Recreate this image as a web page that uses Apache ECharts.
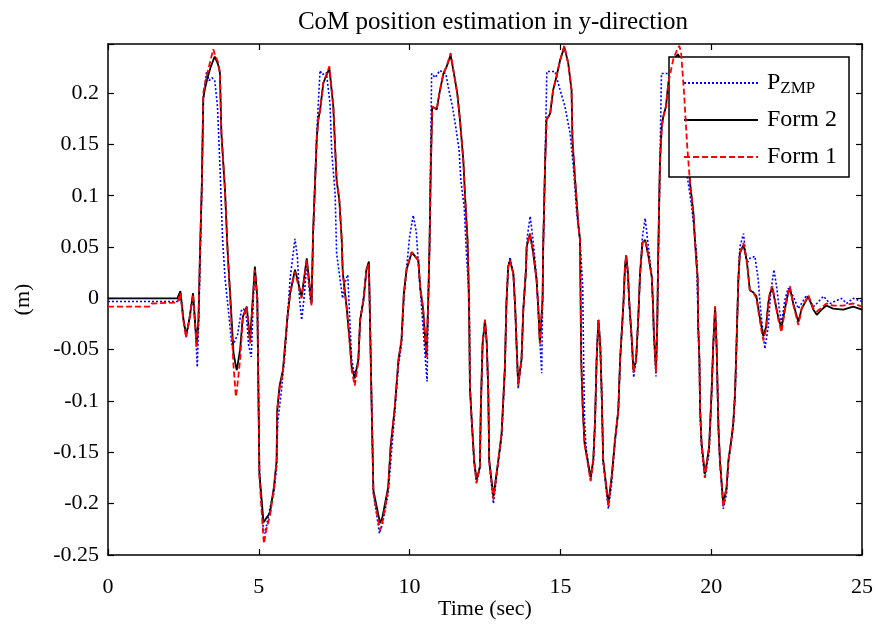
<!DOCTYPE html>
<html>
<head>
<meta charset="utf-8">
<script src="https://cdn.jsdelivr.net/npm/echarts@6/dist/echarts.min.js"></script>
<style>
  html, body { margin: 0; padding: 0; background: #fff; }
  #chart { width: 878px; height: 626px; }
</style>
</head>
<body>
<div id="chart"></div>
<script>
// time (sec) shared by Form 2 / Form 1
const formTime = [0, 1.40, 1.45, 2.30, 2.36, 2.40, 2.50, 2.59, 2.70, 2.82, 2.94, 3.00, 3.05, 3.11, 3.16, 3.22, 3.30, 3.40, 3.49, 3.54,
  3.65, 3.71, 3.76, 3.88, 3.96, 4.02, 4.05, 4.10, 4.16, 4.24, 4.27, 4.38, 4.47, 4.60, 4.71, 4.87, 4.95, 5.02, 5.15, 5.17,
  5.25, 5.37, 5.50, 5.59, 5.61, 5.69, 5.80, 5.86, 5.95, 6.04, 6.20, 6.42, 6.59, 6.75, 6.80, 6.92, 6.97, 7.03, 7.14, 7.34,
  7.47, 7.58, 7.67, 7.75, 7.78, 7.80, 7.92, 8.02, 8.08, 8.18, 8.30, 8.36, 8.47, 8.57, 8.65, 8.74, 8.80, 9.02, 9.10, 9.29,
  9.37, 9.51, 9.63, 9.73, 9.81, 9.90, 10.07, 10.29, 10.35, 10.45, 10.56, 10.62, 10.66, 10.70, 10.75, 10.90, 10.99, 11.12, 11.23, 11.36,
  11.47, 11.58, 11.67, 11.78, 11.84, 11.92, 11.95, 11.98, 12.00, 12.06, 12.14, 12.22, 12.33, 12.36, 12.42, 12.50, 12.56, 12.61, 12.64, 12.78,
  12.94, 13.05, 13.16, 13.21, 13.27, 13.33, 13.44, 13.50, 13.55, 13.60, 13.71, 13.77, 13.86, 13.88, 13.99, 14.10, 14.21, 14.27, 14.32, 14.41,
  14.43, 14.49, 14.54, 14.66, 14.76, 14.87, 14.99, 15.13, 15.26, 15.37, 15.40, 15.48, 15.59, 15.65, 15.66, 15.67, 15.69, 15.74, 15.80, 16.00,
  16.09, 16.15, 16.20, 16.26, 16.32, 16.37, 16.42, 16.59, 16.70, 16.81, 16.92, 16.98, 17.09, 17.14, 17.18, 17.24, 17.28, 17.37, 17.42, 17.51,
  17.58, 17.64, 17.72, 17.81, 17.92, 18.03, 18.07, 18.10, 18.17, 18.21, 18.24, 18.28, 18.30, 18.36, 18.41, 18.50, 18.58, 18.75, 18.90, 18.94,
  19.00, 19.10, 19.20, 19.30, 19.41, 19.46, 19.52, 19.55, 19.57, 19.61, 19.63, 19.68, 19.79, 19.85, 19.93, 20.01, 20.07, 20.13, 20.18, 20.24,
  20.29, 20.40, 20.51, 20.57, 20.68, 20.73, 20.79, 20.84, 20.90, 20.95, 21.07, 21.18, 21.28, 21.39, 21.50, 21.59, 21.67, 21.73, 21.82, 21.89,
  21.95, 22.03, 22.11, 22.22, 22.33, 22.44, 22.55, 22.61, 22.72, 22.89, 23.00, 23.22, 23.39, 23.50, 23.66, 23.82, 24.04, 24.38, 24.71, 25.00];

const form2 = [0, 0, 0, 0, 0, 0.007, -0.02, -0.036, -0.02, 0.005, -0.045, -0.02, 0.044, 0.109, 0.195, 0.205, 0.215, 0.225, 0.232, 0.2355,
  0.228, 0.22, 0.161, 0.105, 0.05, 0.018, 0.005, -0.021, -0.053, -0.066, -0.07, -0.05, -0.018, -0.008, -0.041, 0.031, 0.0, -0.17, -0.216, -0.218,
  -0.214, -0.209, -0.184, -0.158, -0.109, -0.085, -0.07, -0.05, -0.018, 0.005, 0.028, 0.002, 0.039, -0.005, 0.064, 0.154, 0.174, 0.183, 0.21, 0.224,
  0.187, 0.115, 0.096, 0.057, 0.028, 0.021, -0.011, -0.044, -0.067, -0.078, -0.06, -0.021, -0.002, 0.028, 0.036, -0.102, -0.187, -0.219, -0.213, -0.184,
  -0.145, -0.106, -0.06, -0.041, 0.005, 0.028, 0.045, 0.037, 0.011, -0.011, -0.057, 0.0, 0.05, 0.122, 0.187, 0.184, 0.2, 0.219, 0.226, 0.237,
  0.219, 0.2, 0.174, 0.135, 0.099, 0.057, 0.025, -0.028, -0.086, -0.119, -0.158, -0.177, -0.164, -0.109, -0.044, -0.021, -0.044, -0.093, -0.158, -0.193,
  -0.158, -0.132, -0.067, -0.005, 0.031, 0.037, 0.024, -0.008, -0.047, -0.083, -0.06, -0.011, 0.028, 0.05, 0.063, 0.044, 0.018, -0.011, -0.044, 0.0,
  0.05, 0.128, 0.174, 0.18, 0.203, 0.216, 0.232, 0.245, 0.229, 0.203, 0.154, 0.119, 0.073, 0.057, 0.024, 0.0, -0.06, -0.106, -0.141, -0.174,
  -0.158, -0.119, -0.06, -0.021, -0.044, -0.093, -0.158, -0.2, -0.174, -0.138, -0.109, -0.06, -0.005, 0.03, 0.042, 0.025, -0.002, -0.041, -0.07, -0.06,
  -0.021, 0.024, 0.054, 0.057, 0.041, 0.021, -0.005, -0.034, -0.07, -0.028, 0.037, 0.1, 0.132, 0.167, 0.177, 0.187, 0.21, 0.232, 0.238, 0.237,
  0.232, 0.2, 0.15, 0.112, 0.083, 0.057, 0.031, 0.021, -0.028, -0.06, -0.106, -0.141, -0.171, -0.161, -0.145, -0.093, -0.044, -0.008, -0.047, -0.125,
  -0.158, -0.2, -0.184, -0.158, -0.135, -0.122, -0.093, -0.044, 0.018, 0.044, 0.052, 0.037, 0.008, 0.006, 0.002, -0.015, -0.028, -0.037, -0.028, -0.005,
  0.005, 0.01, -0.002, -0.018, -0.029, -0.011, 0.005, 0.01, -0.005, -0.023, -0.01, 0.002, -0.011, -0.016, -0.011, -0.007, -0.01, -0.011, -0.008, -0.011];

const form1 = [-0.008, -0.008, -0.005, -0.004, -0.003, 0.005, -0.022, -0.038, -0.02, 0.004, -0.048, -0.02, 0.044, 0.109, 0.2, 0.21, 0.22, 0.232, 0.2427, 0.238,
  0.23, 0.22, 0.161, 0.105, 0.05, 0.018, 0.0, -0.03, -0.065, -0.096, -0.09, -0.06, -0.02, -0.008, -0.044, 0.028, 0.0, -0.175, -0.232, -0.239,
  -0.225, -0.212, -0.186, -0.16, -0.109, -0.088, -0.072, -0.05, -0.018, 0.005, 0.026, 0.0, 0.037, -0.007, 0.064, 0.154, 0.174, 0.183, 0.21, 0.226,
  0.187, 0.115, 0.096, 0.057, 0.028, 0.021, -0.011, -0.046, -0.07, -0.085, -0.062, -0.021, -0.002, 0.028, 0.033, -0.102, -0.19, -0.226, -0.218, -0.186,
  -0.145, -0.106, -0.06, -0.041, 0.005, 0.028, 0.045, 0.037, 0.011, -0.011, -0.057, 0.0, 0.05, 0.122, 0.187, 0.184, 0.2, 0.219, 0.226, 0.239,
  0.219, 0.2, 0.174, 0.135, 0.099, 0.057, 0.025, -0.028, -0.086, -0.119, -0.158, -0.18, -0.164, -0.109, -0.044, -0.021, -0.044, -0.093, -0.158, -0.196,
  -0.158, -0.132, -0.067, -0.005, 0.031, 0.037, 0.024, -0.008, -0.047, -0.085, -0.06, -0.011, 0.028, 0.05, 0.063, 0.044, 0.018, -0.011, -0.044, 0.0,
  0.05, 0.128, 0.174, 0.18, 0.203, 0.216, 0.232, 0.246, 0.229, 0.203, 0.154, 0.119, 0.073, 0.057, 0.024, 0.0, -0.06, -0.106, -0.141, -0.178,
  -0.158, -0.119, -0.06, -0.021, -0.044, -0.093, -0.158, -0.203, -0.174, -0.138, -0.109, -0.06, -0.005, 0.03, 0.042, 0.025, -0.002, -0.041, -0.072, -0.06,
  -0.021, 0.024, 0.054, 0.057, 0.041, 0.021, -0.005, -0.034, -0.072, -0.028, 0.037, 0.1, 0.132, 0.167, 0.177, 0.187, 0.21, 0.234, 0.244, 0.246,
  0.24, 0.2, 0.15, 0.112, 0.083, 0.057, 0.031, 0.021, -0.028, -0.06, -0.106, -0.141, -0.175, -0.161, -0.145, -0.093, -0.044, -0.008, -0.047, -0.125,
  -0.158, -0.203, -0.184, -0.158, -0.135, -0.122, -0.093, -0.044, 0.018, 0.044, 0.054, 0.037, 0.008, 0.006, 0.0, -0.017, -0.032, -0.041, -0.03, -0.005,
  0.006, 0.012, -0.002, -0.02, -0.033, -0.012, 0.005, 0.012, -0.006, -0.026, -0.01, 0.003, -0.01, -0.013, -0.009, -0.005, -0.007, -0.007, -0.005, -0.008];

// P_ZMP has its own sample times
const zmpTime = [0, 2.36, 2.40, 2.50, 2.59, 2.70, 2.82, 2.90, 2.96, 3.00, 3.05, 3.11, 3.16, 3.27, 3.35, 3.45, 3.54, 3.63, 3.72, 3.80,
  3.88, 3.95, 4.02, 4.10, 4.20, 4.30, 4.42, 4.50, 4.60, 4.66, 4.75, 4.82, 4.87, 4.95, 5.02, 5.15, 5.20, 5.30, 5.40, 5.50,
  5.59, 5.63, 5.75, 5.86, 5.95, 6.04, 6.20, 6.28, 6.35, 6.42, 6.50, 6.59, 6.70, 6.75, 6.80, 6.92, 7.03, 7.10, 7.24, 7.36,
  7.42, 7.53, 7.58, 7.71, 7.78, 7.85, 7.95, 8.00, 8.08, 8.18, 8.30, 8.36, 8.47, 8.57, 8.65, 8.74, 8.80, 9.00, 9.10, 9.29,
  9.40, 9.51, 9.63, 9.73, 9.81, 9.90, 10.00, 10.12, 10.22, 10.30, 10.40, 10.50, 10.58, 10.62, 10.66, 10.73, 10.85, 11.00, 11.20, 11.30,
  11.42, 11.53, 11.64, 11.70, 11.81, 11.89, 11.98, 12.00, 12.06, 12.14, 12.22, 12.33, 12.36, 12.42, 12.50, 12.56, 12.61, 12.64, 12.78, 12.94,
  13.05, 13.16, 13.21, 13.27, 13.33, 13.44, 13.50, 13.55, 13.60, 13.71, 13.77, 13.86, 13.90, 14.00, 14.08, 14.15, 14.21, 14.27, 14.38, 14.41,
  14.43, 14.49, 14.55, 14.82, 14.99, 15.15, 15.32, 15.43, 15.54, 15.65, 15.74, 15.77, 15.80, 15.85, 16.00, 16.09, 16.15, 16.20, 16.26, 16.32,
  16.37, 16.42, 16.59, 16.70, 16.81, 16.92, 16.98, 17.09, 17.14, 17.18, 17.24, 17.28, 17.37, 17.43, 17.51, 17.58, 17.64, 17.72, 17.81, 17.92,
  18.03, 18.07, 18.10, 18.17, 18.21, 18.24, 18.30, 18.35, 18.60, 18.75, 18.90, 19.05, 19.20, 19.35, 19.46, 19.52, 19.57, 19.61, 19.63, 19.68,
  19.79, 19.85, 19.93, 20.01, 20.07, 20.13, 20.18, 20.24, 20.29, 20.40, 20.51, 20.57, 20.68, 20.73, 20.79, 20.84, 20.90, 20.95, 21.07, 21.18,
  21.28, 21.45, 21.56, 21.62, 21.73, 21.78, 21.89, 21.97, 22.08, 22.17, 22.26, 22.33, 22.44, 22.55, 22.72, 22.89, 23.16, 23.39, 23.50, 23.72,
  23.94, 24.32, 24.49, 24.71, 25.00];

const zmp = [-0.003, -0.003, 0.005, -0.02, -0.038, -0.02, 0.003, -0.03, -0.067, -0.03, 0.03, 0.109, 0.195, 0.221, 0.212, 0.215, 0.212, 0.187, 0.122, 0.057,
  0.02, 0.0, -0.02, -0.045, -0.042, -0.035, -0.012, -0.01, -0.02, -0.045, -0.057, 0.0, 0.028, 0.0, -0.17, -0.225, -0.229, -0.215, -0.2, -0.19,
  -0.165, -0.12, -0.09, -0.055, -0.02, 0.02, 0.058, 0.04, 0.0, -0.021, 0.0, 0.035, 0.0, -0.005, 0.06, 0.16, 0.222, 0.218, 0.22, 0.19,
  0.142, 0.102, 0.044, 0.015, 0.0, 0.015, 0.023, -0.01, -0.06, -0.075, -0.06, -0.021, 0.0, 0.028, 0.035, -0.1, -0.19, -0.229, -0.22, -0.19,
  -0.15, -0.11, -0.065, -0.045, 0.0, 0.03, 0.06, 0.081, 0.065, 0.03, -0.01, -0.05, -0.081, 0.0, 0.05, 0.219, 0.215, 0.222, 0.219, 0.203,
  0.187, 0.167, 0.145, 0.115, 0.089, 0.04, 0.0, -0.086, -0.12, -0.16, -0.18, -0.165, -0.11, -0.045, -0.022, -0.045, -0.095, -0.16, -0.2, -0.16,
  -0.135, -0.07, -0.005, 0.03, 0.04, 0.024, -0.01, -0.05, -0.088, -0.06, -0.011, 0.03, 0.06, 0.08, 0.06, 0.04, 0.02, -0.015, -0.073, 0.0,
  0.05, 0.13, 0.221, 0.221, 0.203, 0.187, 0.161, 0.128, 0.083, 0.057, 0.011, -0.06, -0.12, -0.145, -0.178, -0.16, -0.12, -0.06, -0.021, -0.045,
  -0.095, -0.16, -0.205, -0.18, -0.14, -0.11, -0.06, -0.005, 0.03, 0.04, 0.02, -0.005, -0.045, -0.077, -0.06, -0.02, 0.02, 0.06, 0.078, 0.05,
  0.02, -0.01, -0.04, -0.076, -0.03, 0.03, 0.13, 0.219, 0.219, 0.2, 0.17, 0.14, 0.12, 0.09, 0.06, 0.04, -0.03, -0.06, -0.11, -0.145,
  -0.175, -0.165, -0.15, -0.095, -0.045, -0.01, -0.05, -0.13, -0.16, -0.205, -0.19, -0.16, -0.137, -0.125, -0.095, -0.045, 0.018, 0.05, 0.063, 0.034,
  0.039, 0.041, 0.018, -0.005, -0.037, -0.049, -0.028, 0.005, 0.028, 0.011, -0.011, -0.024, -0.002, 0.01, 0.002, -0.01, 0.003, -0.008, -0.005, 0.002,
  -0.005, 0.0, -0.005, 0.0, -0.003];

const yStep = 0.05;

function pairs(t, v) {
  return t.map(function (x, i) { return [x, v[i]]; });
}

const font = "'Liberation Serif', 'Times New Roman', serif";
const chart = echarts.init(document.getElementById("chart"), null, { renderer: "canvas" });

// box round the plot, ticks pointing in (matlab look)
const boxLine = { onZero: false, lineStyle: { color: "#000", width: 1.5 } };
const inTick = { inside: true, length: 6, lineStyle: { color: "#000", width: 1.2 } };

let option = {
  animation: false,
  backgroundColor: "#fff",
  title: {
    text: "CoM position estimation in y-direction",
    left: 488,
    top: 5,
    textAlign: "center",
    textStyle: { fontFamily: font, fontWeight: "normal", fontSize: 25, color: "#000" }
  },
  grid: { left: 108, right: 16, top: 44, bottom: 71, outerBoundsMode: "none", containLabel: false },
  legend: {
    orient: "vertical",
    left: 669,
    top: 57,
    padding: [11, 12, 5, 14],
    itemWidth: 74,
    itemHeight: 14,
    itemGap: 7,
    backgroundColor: "#fff",
    borderColor: "#000",
    borderWidth: 1.5,
    borderRadius: 0,
    data: ["P_ZMP", "Form 2", "Form 1"],
    itemStyle: { color: "rgba(0,0,0,0)", borderWidth: 0, opacity: 0 },
    formatter: function (name) {
      return name === "P_ZMP" ? "{p|P}{s|ZMP}" : name;
    },
    textStyle: {
      fontFamily: font,
      fontSize: 24,
      color: "#000",
      height: 30,
      lineHeight: 30,
      padding: [0, 0, 0, 4],
      rich: {
        p: { fontFamily: font, fontSize: 24, color: "#000", lineHeight: 30 },
        s: { fontFamily: font, fontSize: 17, color: "#000", padding: [12, 0, 0, 0], lineHeight: 30 }
      }
    }
  },
  xAxis: [{
    type: "value",
    min: 0,
    max: 25,
    interval: 5,
    name: "Time (sec)",
    nameLocation: "middle",
    nameGap: 43,
    nameMoveOverlap: false,
    nameTextStyle: { fontFamily: font, fontSize: 22, color: "#000" },
    axisLine: boxLine,
    axisTick: inTick,
    splitLine: { show: false },
    axisLabel: { margin: 21, fontFamily: font, fontSize: 22, color: "#000" }
  }, {
    type: "value",
    position: "top",
    min: 0,
    max: 25,
    interval: 5,
    axisLine: boxLine,
    axisTick: inTick,
    splitLine: { show: false },
    axisLabel: { show: false }
  }],
  yAxis: [{
    type: "value",
    min: -0.25,
    max: 0.2478,
    interval: yStep,
    name: "(m)",
    nameLocation: "middle",
    nameRotate: 90,
    nameGap: 74,
    nameMoveOverlap: false,
    nameTextStyle: { fontFamily: font, fontSize: 22, color: "#000" },
    axisLine: boxLine,
    axisTick: inTick,
    splitLine: { show: false },
    axisLabel: {
      margin: 9,
      fontFamily: font,
      fontSize: 22,
      color: "#000",
      formatter: function (v) {
        const k = v / yStep;
        if (Math.abs(k - Math.round(k)) > 1e-6) return "";
        return String(Math.round(k) * 5 / 100);
      }
    }
  }, {
    type: "value",
    position: "right",
    min: -0.25,
    max: 0.2478,
    interval: yStep,
    axisLine: boxLine,
    axisTick: inTick,
    splitLine: { show: false },
    axisLabel: { show: false }
  }],
  series: [{
    name: "P_ZMP",
    type: "line",
    data: pairs(zmpTime, zmp),
    showSymbol: false,
    symbol: "none",
    lineStyle: { color: "#0000ff", width: 1.6, type: [2, 2] },
    itemStyle: { color: "#0000ff" },
    z: 2
  }, {
    name: "Form 2",
    type: "line",
    data: pairs(formTime, form2),
    showSymbol: false,
    symbol: "none",
    lineStyle: { color: "#000", width: 1.8 },
    itemStyle: { color: "#000" },
    z: 3
  }, {
    name: "Form 1",
    type: "line",
    data: pairs(formTime, form1),
    showSymbol: false,
    symbol: "none",
    lineStyle: { color: "#ff0000", width: 1.8, type: [6, 3] },
    itemStyle: { color: "#ff0000" },
    z: 4
  }]
};

chart.setOption(option);
</script>
</body>
</html>
